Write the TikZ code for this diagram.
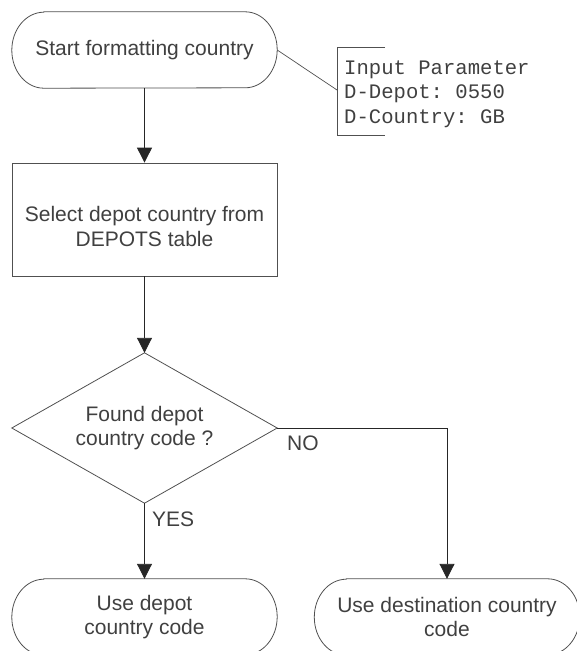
\documentclass[tikz,border=0pt]{standalone}
\usepackage{fontspec}
\setmainfont{Liberation Sans}
\newfontfamily\notefont{Liberation Mono}
\usetikzlibrary{arrows.meta,calc}
\frenchspacing
\definecolor{ink}{HTML}{404040}
\definecolor{edge}{HTML}{505050}
\tikzset{
  base/.style={inner sep=0pt, text=ink, align=center,
               font=\fontsize{21}{24.5}\selectfont},
  termbox/.style={base, minimum width=265pt, minimum height=76pt},
  procbox/.style={base, draw=edge, line width=0.8pt,
                  minimum width=265pt, minimum height=113pt},
  decbox/.style={base, minimum width=265pt, minimum height=150pt},
  outline/.style={draw=edge, line width=0.8pt},
  flow/.style={draw=black!85, line width=0.9pt,
               -{Triangle[width=15pt,length=15pt]}},
  branch/.style={base, anchor=base west},
  notetext/.style={inner sep=0pt, text=ink, align=left, anchor=west,
                   font=\notefont\fontsize{20.6}{24.5}\selectfont},
  noteline/.style={draw=edge, line width=0.7pt},
}
% rounded start/end outline drawn around a terminal node
\newcommand\terminalframe[1]{%
  \draw[outline] ($(#1.north west)+(32,0)$) -- ($(#1.north east)+(-32,0)$)
    arc[start angle=-90,end angle=90,x radius=32,y radius=38]
    -- ($(#1.south west)+(32,0)$)
    arc[start angle=90,end angle=270,x radius=32,y radius=38] -- cycle;}
\begin{document}
\begin{tikzpicture}[x=1pt,y=-1pt]
  \useasboundingbox (0,0) rectangle (577,651);
  \clip (0,0) rectangle (577,651);

  % terminals, process and decision
  \node[termbox] (start) at (144.5,50) {Start formatting country};
  \terminalframe{start}

  \node[procbox] (select) at (144.5,219.5) {};
  \node[base] (selectText) at ([yshift=-7pt]select.center)
    {Select depot country from\\DEPOTS table};

  \node[decbox] (found) at (144.5,428) {Found depot\\country code ?};
  \draw[outline] (found.north) -- (found.east) -- (found.south)
    -- (found.west) -- cycle;

  \node[termbox] (usedepot) at (144.5,617) {Use depot\\country code};
  \terminalframe{usedepot}

  \node[termbox] (usedest) at (447,617) {Use destination country\\code};
  \terminalframe{usedest}

  % input parameter annotation
  \node[notetext] (note) at (344,94.2)
    {Input Parameter\\D-Depot: 0550\\D-Country: GB};
  \coordinate (noteTop) at (385,47);
  \coordinate (noteTopBend) at (337,47);
  \coordinate (noteBotBend) at (337,135);
  \coordinate (noteBot) at (385,135);
  \coordinate (notePin) at (337,90);
  \draw[noteline] (noteTop) -- (noteTopBend) -- (noteBotBend) -- (noteBot);
  \draw[noteline] (start.east) -- (notePin);

  % flow connectors
  \draw[flow] (start.south) -- (select.north);
  \draw[flow] (select.south) -- (found.north);
  \draw[flow] (found.south) -- (usedepot.north);
  \draw[flow] (found.east) -| (usedest.north);

  \node[branch] (yes) at (152,526) {YES};
  \node[branch] (no) at (287,450) {NO};
\end{tikzpicture}
\end{document}
